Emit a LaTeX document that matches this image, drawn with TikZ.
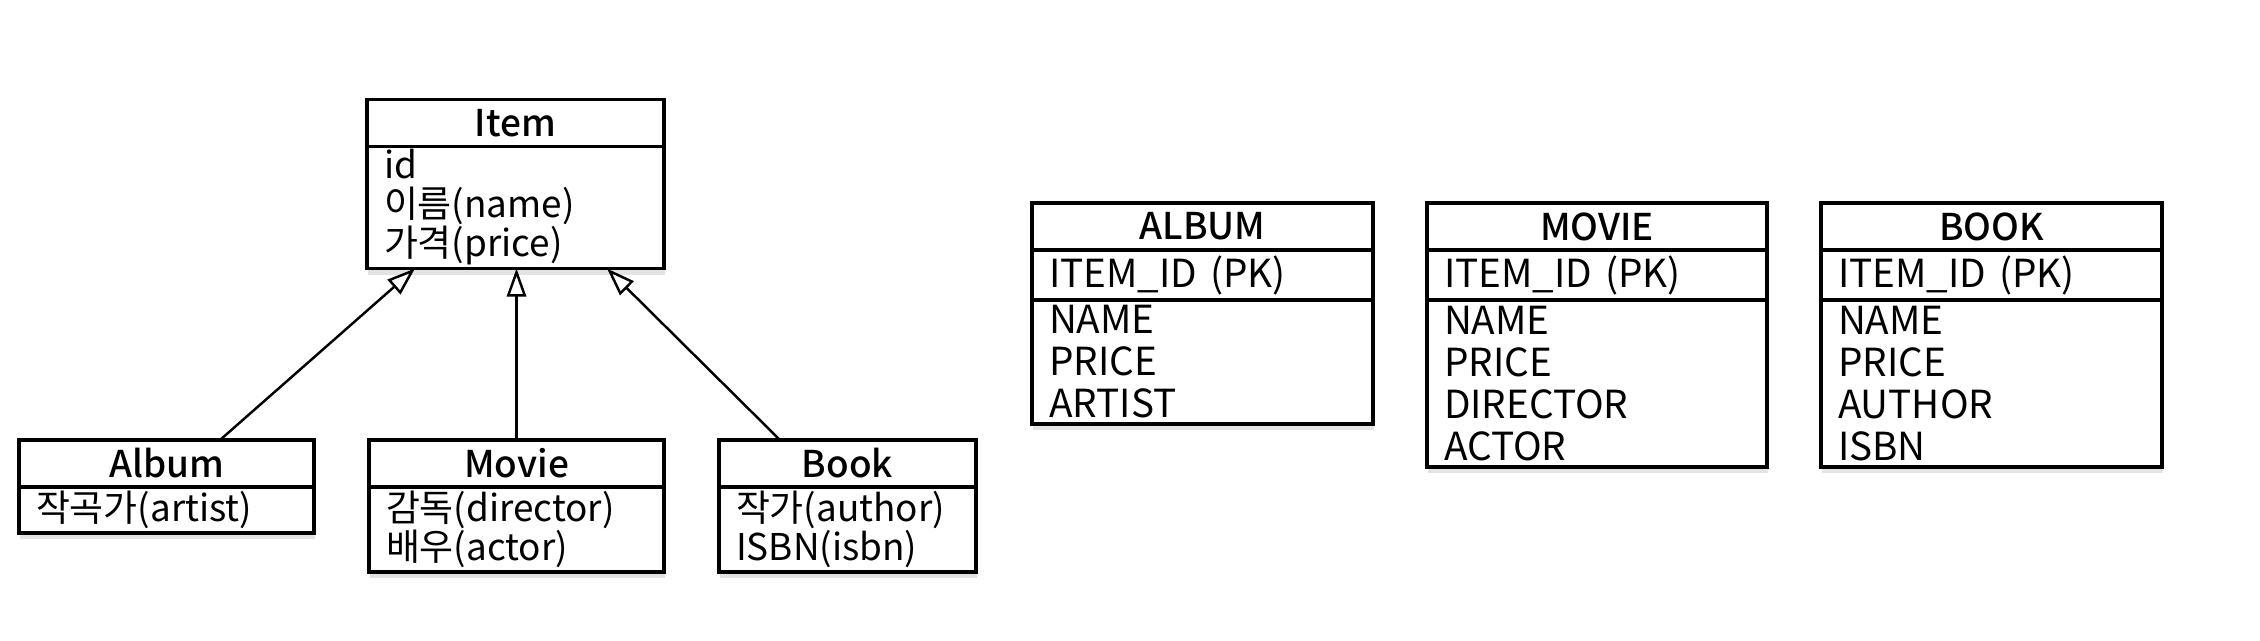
\documentclass[tikz,border=0pt]{standalone}
\usepackage{fontspec}
\setmainfont{Noto Sans CJK KR}[BoldFont={* Medium}]
\usetikzlibrary{arrows.meta, positioning, shadows}

\tikzset{
  box/.style={draw, line width=0.9pt, fill=white, inner sep=0pt, inner xsep=0.17cm, outer sep=0pt,
    drop shadow={shadow xshift=0.4pt, shadow yshift=-1.8pt, opacity=0.22}},
  title/.style={box, minimum height=0.47cm, font=\bfseries\fontsize{10.5}{12}\selectfont},
  fields/.style={box, align=left, font=\fontsize{10.5}{11.1}\selectfont},
  cols/.style={box, align=left, font=\fontsize{11}{11.95}\selectfont},
  isa/.style={line width=0.7pt, -{Triangle[open, length=8pt, width=5.5pt]}}
}

\begin{document}
\begin{tikzpicture}
  \useasboundingbox (0,0) rectangle (22.6,6.4);

  % class diagram
  \node[title, minimum width=2.97cm] (ItemT) at (5.155,5.17) {Item};
  \node[fields, text width=2.63cm, minimum height=1.22cm, below=0pt of ItemT] (ItemF) {id\\이름(name)\\가격(price)};

  \node[title, minimum width=2.95cm] (AlbumT) at (1.665,1.765) {Album};
  \node[fields, text width=2.61cm, minimum height=0.46cm, below=0pt of AlbumT] (AlbumF) {작곡가(artist)};

  \node[title, minimum width=2.95cm] (MovieT) at (5.165,1.765) {Movie};
  \node[fields, text width=2.61cm, minimum height=0.85cm, below=0pt of MovieT] (MovieF) {감독(director)\\배우(actor)};

  \node[title, minimum width=2.57cm] (BookT) at (8.475,1.765) {Book};
  \node[fields, text width=2.23cm, minimum height=0.85cm, below=0pt of BookT] (BookF) {작가(author)\\ISBN(isbn)};

  \draw[isa] ([xshift=0.535cm]AlbumT.north) -- ([xshift=-1.005cm]ItemF.south);
  \draw[isa] (MovieT.north) -- (MovieT.north |- ItemF.south);
  \draw[isa] ([xshift=-0.675cm]BookT.north) -- ([xshift=0.915cm]ItemF.south);

  % tables
  \node[title, minimum width=3.41cm] (AlbumTab) at (12.025,4.135) {ALBUM};
  \node[cols, text width=3.07cm, minimum height=0.50cm, below=0pt of AlbumTab] (AlbumPK) {ITEM\_ID (PK)};
  \node[cols, text width=3.07cm, minimum height=1.24cm, below=0pt of AlbumPK] (AlbumCols) {NAME\\PRICE\\ARTIST};

  \node[title, minimum width=3.40cm] (MovieTab) at (15.97,4.135) {MOVIE};
  \node[cols, text width=3.06cm, minimum height=0.50cm, below=0pt of MovieTab] (MoviePK) {ITEM\_ID (PK)};
  \node[cols, text width=3.06cm, minimum height=1.67cm, below=0pt of MoviePK] (MovieCols) {NAME\\PRICE\\DIRECTOR\\ACTOR};

  \node[title, minimum width=3.41cm] (BookTab) at (19.915,4.135) {BOOK};
  \node[cols, text width=3.07cm, minimum height=0.50cm, below=0pt of BookTab] (BookPK) {ITEM\_ID (PK)};
  \node[cols, text width=3.07cm, minimum height=1.67cm, below=0pt of BookPK] (BookCols) {NAME\\PRICE\\AUTHOR\\ISBN};
\end{tikzpicture}
\end{document}
